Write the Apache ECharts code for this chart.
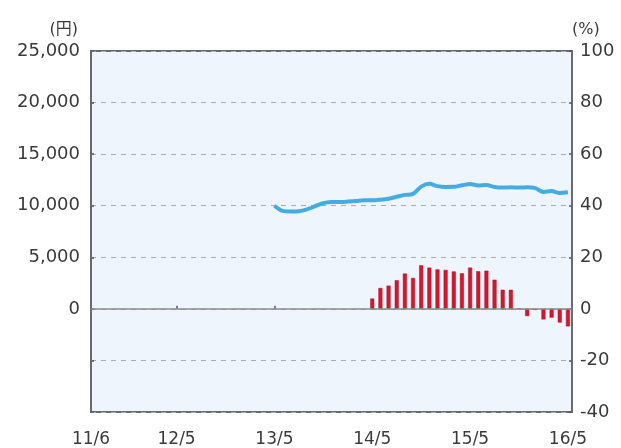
<!DOCTYPE html>
<html>
<head>
<meta charset="utf-8">
<script src="https://cdn.jsdelivr.net/npm/echarts@6/dist/echarts.min.js"></script>
<style>html,body{margin:0;padding:0;background:#fff}#c{width:621px;height:448px}</style>
</head>
<body>
<div id="c"></div>
<script>
// month index: 11/6 = 0, 12/5 = 11, 13/5 = 23, 14/5 = 35, 15/5 = 47, 16/5 = 59
var xTickLabels = ['11/6', '12/5', '13/5', '14/5', '15/5', '16/5'];
var xTickMonth = [0.5, 11, 23, 35, 47, 59];

// price line (円), monthly from 13/5 (index 23) to 16/5 (index 59)
var lineStart = 23;
var lineValues = [10000, 9500, 9450, 9470, 9650, 9950, 10250, 10350, 10360, 10400,
  10450, 10520, 10520, 10580, 10680, 10870, 11050, 11150, 11850, 12120,
  11900, 11820, 11830, 11980, 12100, 11970, 12000, 11820, 11760, 11790,
  11760, 11780, 11700, 11330, 11420, 11230, 11300];

// year-on-year change (%), monthly from 14/5 (index 35) to 16/5 (index 59)
var barStart = 35;
var barValues = [4.0, 8.1, 9.0, 11.1, 13.7, 12.0, 16.9, 16.0, 15.3, 15.1,
  14.5, 13.8, 16.0, 14.6, 14.8, 11.3, 7.4, 7.4, 0, -2.8,
  -0.4, -4.1, -3.4, -5.3, -6.8];

var leftTicks = [-10000, 25000, 5000];
var rightTicks = [-40, 100, 20];

var lineData = lineValues.map(function (v, i) { return [lineStart + i, v]; });
var barData = barValues.map(function (v, i) { return [barStart + i, v]; });

var font = 'DejaVu Sans, "Noto Sans CJK JP", sans-serif';
var chart = echarts.init(document.getElementById('c'));
chart.setOption({
  animation: false,
  grid: {
    left: 91, right: 49, top: 51, bottom: 36,
    show: true, backgroundColor: '#eef5fc', borderColor: '#6a6a6a', borderWidth: 2
  },
  xAxis: {
    type: 'value', min: 0.5, max: 59.5,
    axisLine: { show: false },
    splitLine: { show: false },
    axisTick: { show: true, inside: true, length: 3, customValues: xTickMonth.slice(1, 5), lineStyle: { color: '#555', width: 1.5 } },
    axisLabel: {
      customValues: xTickMonth, margin: 19, color: '#3a3a3a', fontSize: 17, fontFamily: font,
      formatter: function (v) {
        var k = xTickMonth.indexOf(v);
        return k >= 0 ? xTickLabels[k] : '';
      }
    }
  },
  yAxis: [{
    type: 'value', min: leftTicks[0], max: leftTicks[1], interval: leftTicks[2],
    name: '(円)', nameLocation: 'end', nameGap: 13,
    nameTextStyle: { color: '#3a3a3a', fontSize: 16, fontFamily: font, align: 'right', padding: [0, 13, 0, 0] },
    axisLine: { show: false },
    axisTick: { show: true, inside: true, length: 3, lineStyle: { color: '#555', width: 1.5 } },
    splitLine: { show: true, lineStyle: { color: '#a9adb3', type: [5, 5], width: 1 } },
    axisLabel: {
      margin: 11, color: '#3a3a3a', fontSize: 18, fontFamily: font,
      formatter: function (v) { return v < 0 ? '' : v.toLocaleString('en-US'); }
    }
  }, {
    type: 'value', min: rightTicks[0], max: rightTicks[1], interval: rightTicks[2],
    name: '(%)', nameLocation: 'end', nameGap: 13,
    nameTextStyle: { color: '#3a3a3a', fontSize: 16, fontFamily: font, align: 'left', padding: [0, 0, 0, 0] },
    axisLine: { show: false },
    axisTick: { show: true, inside: true, length: 3, lineStyle: { color: '#555', width: 1.5 } },
    splitLine: { show: false },
    axisLabel: { margin: 8, color: '#3a3a3a', fontSize: 18, fontFamily: font }
  }],
  series: [{
    type: 'bar', yAxisIndex: 1, data: barData, barWidth: 4,
    itemStyle: { color: '#d3172f', borderColor: '#b01226', borderWidth: 0.5 },
    markLine: {
      silent: true, symbol: 'none', label: { show: false },
      lineStyle: { color: '#8a8a8a', type: 'solid', width: 1.5 },
      data: [{ yAxis: 0 }]
    }
  }, {
    type: 'line', yAxisIndex: 0, data: lineData, showSymbol: false, smooth: 0.3,
    lineStyle: { color: '#43ade3', width: 4 }
  }]
});
</script>
</body>
</html>
